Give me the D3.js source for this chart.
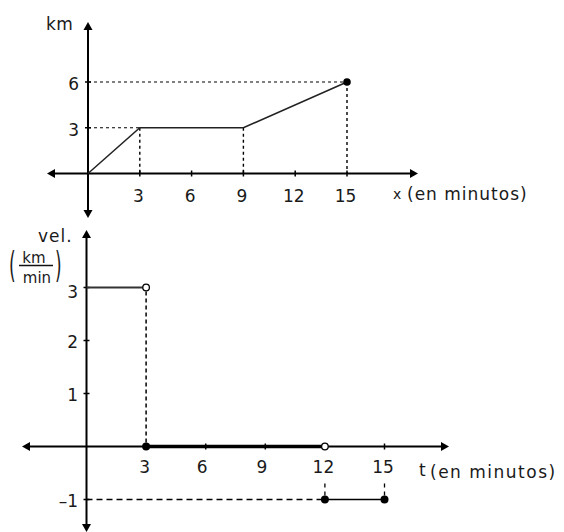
<!DOCTYPE html>
<html><head><meta charset="utf-8">
<script src="https://cdn.jsdelivr.net/npm/d3@7"></script>
<style>body{margin:0;background:#fff}svg{display:block}text{font-family:"DejaVu Sans",sans-serif;font-size:17px;fill:#1a1a1a}</style>
</head><body>
<svg id="c" width="564" height="532"></svg>
<script>
// Top chart: distance (km) vs time (min)
const topTicksX = [3, 6, 9, 12, 15];
const topTicksY = [3, 6];
const distTime = [0, 3, 9, 15];
const distKm = [0, 3, 3, 6];
// Bottom chart: velocity (km/min) vs time
const botTicksX = [3, 6, 9, 12, 15];
const botTicksY = [-1, 1, 2, 3];
const velSegStart = [0, 3, 12];
const velSegEnd = [3, 12, 15];
const velValue = [3, 0, -1];

const svg = d3.select("#c");

function arrow(g, x, y, dir) {
  const s = 6, w = 4.5;
  let p;
  if (dir === "up") p = [[x, y], [x - w, y + s + 2], [x + w, y + s + 2]];
  if (dir === "down") p = [[x, y], [x - w, y - s - 2], [x + w, y - s - 2]];
  if (dir === "left") p = [[x, y], [x + s + 2, y - w], [x + s + 2, y + w]];
  if (dir === "right") p = [[x, y], [x - s - 2, y - w], [x - s - 2, y + w]];
  g.append("path").attr("d", d3.line()(p) + "Z").attr("fill", "#000");
}

// ---------- TOP ----------
const tx = d3.scaleLinear().domain([0, 15]).range([88, 347]);
const ty = d3.scaleLinear().domain([0, 6]).range([173.5, 82]);
const gt = svg.append("g");
const dash = "3,3";
// guide lines
gt.append("line").attr("x1", tx(0)).attr("x2", tx(15)).attr("y1", ty(6)).attr("y2", ty(6)).attr("stroke", "#000").attr("stroke-dasharray", dash);
gt.append("line").attr("x1", tx(0)).attr("x2", tx(3)).attr("y1", ty(3)).attr("y2", ty(3)).attr("stroke", "#000").attr("stroke-dasharray", dash);
[[3, 3], [9, 3], [15, 6]].forEach(([a, b]) => {
  gt.append("line").attr("x1", tx(a)).attr("x2", tx(a)).attr("y1", ty(b)).attr("y2", ty(0)).attr("stroke", "#000").attr("stroke-width", 1.4).attr("stroke-dasharray", dash);
});
// axes
gt.append("line").attr("x1", 50).attr("x2", 412).attr("y1", ty(0)).attr("y2", ty(0)).attr("stroke", "#000").attr("stroke-width", 2);
gt.append("line").attr("x1", tx(0)).attr("x2", tx(0)).attr("y1", 28).attr("y2", 212).attr("stroke", "#000").attr("stroke-width", 2);
arrow(gt, 47, ty(0), "left");
arrow(gt, 418, ty(0), "right");
arrow(gt, tx(0), 22, "up");
arrow(gt, tx(0), 218, "down");
topTicksX.forEach(v => {
  gt.append("line").attr("x1", tx(v)).attr("x2", tx(v)).attr("y1", ty(0) - 3).attr("y2", ty(0) + 3).attr("stroke", "#000").attr("stroke-width", 1.5);
  gt.append("text").attr("x", tx(v) - 1.5).attr("y", ty(0) + 28).attr("text-anchor", "middle").text(v);
});
topTicksY.forEach(v => {
  gt.append("line").attr("x1", tx(0) - 3).attr("x2", tx(0) + 3).attr("y1", ty(v)).attr("y2", ty(v)).attr("stroke", "#000").attr("stroke-width", 1.5);
  gt.append("text").attr("x", 79).attr("y", ty(v) + 8).attr("text-anchor", "end").text(v);
});
gt.append("text").attr("x", 46).attr("y", 30).style("letter-spacing", "0.5px").text("km");
gt.append("text").attr("x", 393).attr("y", 199).style("font-size", "14px").text("x");
gt.append("text").attr("x", 407).attr("y", 200).style("letter-spacing", "1px").text("(en minutos)");
// data line
const pts = distTime.map((t, i) => [tx(t), ty(distKm[i])]);
gt.append("path").attr("d", d3.line()(pts)).attr("fill", "none").attr("stroke", "#222").attr("stroke-width", 1.5);
gt.append("circle").attr("cx", tx(15)).attr("cy", ty(6)).attr("r", 3.8).attr("fill", "#000");

// ---------- BOTTOM ----------
const bx = d3.scaleLinear().domain([0, 15]).range([86.5, 384.5]);
const by = d3.scaleLinear().domain([-1, 3]).range([499.5, 287.5]);
const gb = svg.append("g");
// guides
gb.append("line").attr("x1", bx(3)).attr("x2", bx(3)).attr("y1", by(3) + 4).attr("y2", by(0)).attr("stroke", "#000").attr("stroke-width", 1.5).attr("stroke-dasharray", "4,3");
gb.append("line").attr("x1", bx(0)).attr("x2", bx(12)).attr("y1", by(-1)).attr("y2", by(-1)).attr("stroke", "#000").attr("stroke-width", 1.4).attr("stroke-dasharray", "6,4");
[12, 15].forEach(v => {
  gb.append("line").attr("x1", bx(v)).attr("x2", bx(v)).attr("y1", by(-0.7)).attr("y2", by(-1)).attr("stroke", "#000").attr("stroke-width", 1.3).attr("stroke-dasharray", "4,4");
});
// axes
gb.append("line").attr("x1", 26).attr("x2", 442).attr("y1", by(0)).attr("y2", by(0)).attr("stroke", "#000").attr("stroke-width", 2);
gb.append("line").attr("x1", bx(0)).attr("x2", bx(0)).attr("y1", 236).attr("y2", 526).attr("stroke", "#000").attr("stroke-width", 2);
arrow(gb, 22, by(0), "left");
arrow(gb, 449, by(0), "right");
arrow(gb, bx(0), 230, "up");
arrow(gb, bx(0), 532, "down");
botTicksX.forEach(v => {
  gb.append("line").attr("x1", bx(v)).attr("x2", bx(v)).attr("y1", by(0) - 3).attr("y2", by(0) + 3).attr("stroke", "#000").attr("stroke-width", 1.5);
  gb.append("text").attr("x", bx(v) - (v === 6 || v === 9 ? 3.5 : 1.5)).attr("y", by(0) + 26).attr("text-anchor", "middle").text(v);
});
botTicksY.forEach(v => {
  gb.append("line").attr("x1", bx(0) - 3).attr("x2", bx(0) + 3).attr("y1", by(v)).attr("y2", by(v)).attr("stroke", "#000").attr("stroke-width", 1.5);
  gb.append("text").attr("x", 78).attr("y", by(v) + (v === 3 ? 10 : 7)).attr("text-anchor", "end").text(v === -1 ? "\u20131" : v);
});
gb.append("text").attr("x", 38).attr("y", 242).style("letter-spacing", "1px").text("vel.");
// (km/min)
gb.append("text").attr("transform", "translate(9,277) scale(1,2.1)").style("font-size", "17px").text("(");
gb.append("text").attr("transform", "translate(55,277) scale(1,2.1)").style("font-size", "17px").text(")");
gb.append("text").attr("x", 34).attr("y", 263).attr("text-anchor", "middle").style("font-size", "15px").text("km");
gb.append("line").attr("x1", 19).attr("x2", 53).attr("y1", 265.5).attr("y2", 265.5).attr("stroke", "#111").attr("stroke-width", 1.5);
gb.append("text").attr("x", 37).attr("y", 283).attr("text-anchor", "middle").style("font-size", "15px").text("min");
gb.append("text").attr("x", 419).attr("y", 476).text("t");
gb.append("text").attr("x", 430).attr("y", 478).style("letter-spacing", "1.5px").text("(en minutos)");
// velocity segments
velValue.forEach((v, i) => {
  gb.append("line")
    .attr("x1", bx(velSegStart[i])).attr("x2", bx(velSegEnd[i]))
    .attr("y1", by(v)).attr("y2", by(v))
    .attr("stroke", v === 3 ? "#333" : "#000").attr("stroke-width", v === 0 ? 3.5 : (v === 3 ? 2 : 1.5));
});
// endpoints
gb.append("circle").attr("cx", bx(3)).attr("cy", by(3)).attr("r", 3.3).attr("fill", "#fff").attr("stroke", "#000").attr("stroke-width", 1.3);
gb.append("circle").attr("cx", bx(3)).attr("cy", by(0)).attr("r", 4).attr("fill", "#000");
gb.append("circle").attr("cx", bx(12)).attr("cy", by(0)).attr("r", 3.3).attr("fill", "#fff").attr("stroke", "#000").attr("stroke-width", 1.3);
gb.append("circle").attr("cx", bx(12)).attr("cy", by(-1)).attr("r", 4).attr("fill", "#000");
gb.append("circle").attr("cx", bx(15)).attr("cy", by(-1)).attr("r", 4).attr("fill", "#000");
</script>
</body></html>
